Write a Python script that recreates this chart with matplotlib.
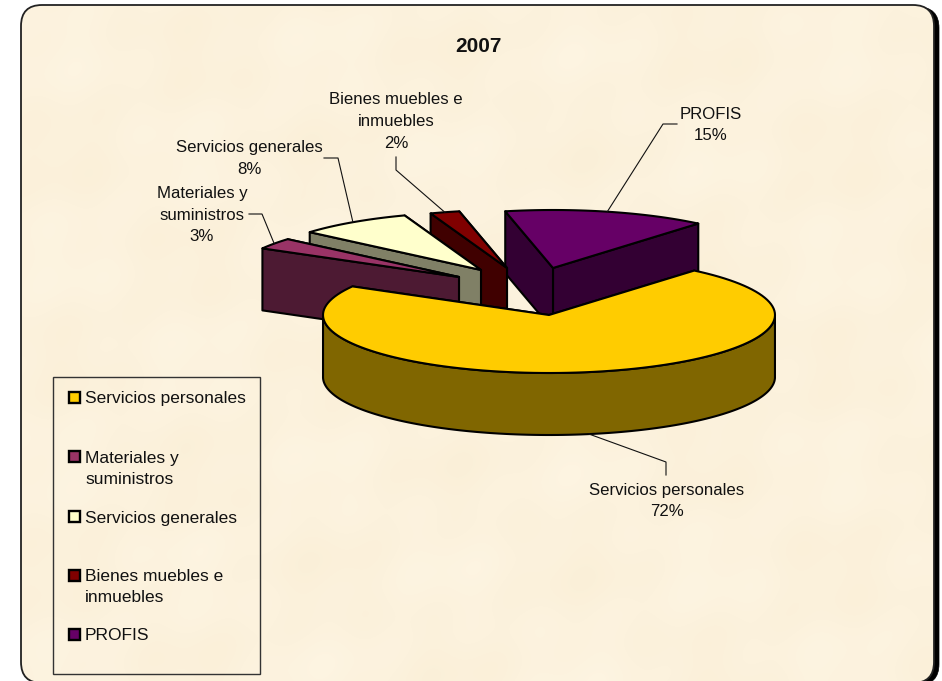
import numpy as np
import matplotlib
matplotlib.use("Agg")
import matplotlib.pyplot as plt
from matplotlib.patches import FancyBboxPatch, Polygon, Rectangle

plt.rcParams["font.family"] = ["Liberation Sans", "DejaVu Sans"]

# data
categories = ["Servicios personales", "Materiales y suministros", "Servicios generales",
              "Bienes muebles e inmuebles", "PROFIS"]
percent = [72.1, 3.1, 8.2, 2.1, 14.5]   # slice sizes, labels are rounded
title = "2007"

# text as wrapped in the chart
legend_text = ["Servicios personales", "Materiales y\nsuministros", "Servicios generales",
               "Bienes muebles e\ninmuebles", "PROFIS"]
label_text = ["Servicios personales\n72%", "Materiales y\nsuministros\n3%", "Servicios generales\n8%",
              "Bienes muebles e\ninmuebles\n2%", "PROFIS\n15%"]

# colours / geometry
FACE = ["#FFCC00", "#993366", "#FFFFCC", "#800000", "#660066"]
SIDE = ["#806600", "#4D1A33", "#808066", "#400000", "#330033"]
BG = (252, 242, 221)
RX, RY, DEPTH = 226, 58, 62
START = 50   # degrees, slices run clockwise
TIPS = [(549, 315), (459, 277), (481, 270), (507, 268), (553, 268)]
DRAW_ORDER = [4, 3, 2, 1, 0]
LABEL_POS = [(667, 501), (202, 215), (249, 158.5), (396, 121.5), (711, 125)]
LEADERS = [[(666, 475), (666, 462)], [(249, 214), (262, 214)], [(324, 158), (338, 158)],
           [(396, 157), (396, 170)], [(677, 124), (663, 124)]]
LEGEND_Y = [397.5, 456.5, 516.5, 575, 634]

fig = plt.figure(figsize=(9.42, 6.81), dpi=100, facecolor="white")
ax = fig.add_axes([0, 0, 1, 1])
ax.set_xlim(0, 942)
ax.set_ylim(681, 0)
ax.axis("off")

# card with shadow on the right
ax.add_patch(FancyBboxPatch((26, 7), 913, 678, boxstyle="round,pad=0,rounding_size=21",
                            fc="black", ec="black", lw=0.5, zorder=1))
# almost clear fill: an unfilled path gets mangled where it leaves the canvas
card = FancyBboxPatch((21, 5), 913, 678, boxstyle="round,pad=0,rounding_size=21",
                      fc=(1, 1, 1, 0.01), ec="#222222", lw=1.3, zorder=3)
ax.add_patch(card)

# faint paper mottling inside the card
yy, xx = np.mgrid[0:681, 0:942]
mott = np.sin(xx / 41.0) * np.sin(yy / 33.0) + 0.6 * np.sin((xx + yy) / 19.0) * np.cos((xx - yy) / 27.0)
paper = np.clip(np.dstack([BG[0] + 0.8 * mott, BG[1] + 1.5 * mott, BG[2] + 3 * mott]), 0, 255).astype(np.uint8)
im = ax.imshow(paper, extent=(0, 942, 681, 0), zorder=2, aspect="auto", interpolation="bilinear")
im.set_clip_path(card)
ax.set_xlim(0, 942)
ax.set_ylim(681, 0)


def arc(tip, t0, t1):
    t = np.radians(np.linspace(t0, t1, 120))
    return np.column_stack([tip[0] + RX * np.cos(t), tip[1] - RY * np.sin(t)])


def draw_slice(i, t_hi, t_lo):
    tip = np.array(TIPS[i], dtype=float)
    down = np.array([0, DEPTH])
    pts = arc(tip, t_hi, t_lo)
    z = 10 + DRAW_ORDER.index(i)
    style = dict(ec="black", lw=1.5, joinstyle="round", zorder=z)
    # cut faces
    for end in (pts[-1], pts[0]):
        ax.add_patch(Polygon([tip, end, end + down, tip + down], fc=SIDE[i], **style))
    # outer wall, only the front half shows
    angles = np.linspace(t_hi, t_lo, 240)
    front = angles[np.sin(np.radians(angles)) <= 0]
    if len(front):
        edge = arc(tip, front[0], front[-1])
        ax.add_patch(Polygon(np.vstack([edge, (edge + down)[::-1]]), fc=SIDE[i], **style))
    ax.add_patch(Polygon(np.vstack([tip, pts]), fc=FACE[i], **style))


# slice angles from the values
stops = START - np.cumsum([0] + percent) * 3.6
for i in DRAW_ORDER:
    draw_slice(i, stops[i], stops[i + 1])

# leader lines start at the outer edge of each slice
for i, elbow in enumerate(LEADERS):
    mid = np.radians((stops[i] + stops[i + 1]) / 2)
    x0 = TIPS[i][0] + RX * np.cos(mid)
    y0 = TIPS[i][1] - RY * np.sin(mid) + (DEPTH if np.sin(mid) < 0 else 0)
    xs = [p[0] for p in elbow] + [x0]
    ys = [p[1] for p in elbow] + [y0]
    ax.plot(xs, ys, color="#111111", lw=0.8, zorder=30)
    ax.text(LABEL_POS[i][0], LABEL_POS[i][1], label_text[i], ha="center", va="center",
            fontsize=12.1, linespacing=1.55, color="#111111", zorder=31)

ax.text(478, 46, title, ha="center", va="center", fontsize=15, fontweight="bold",
        color="#111111", zorder=31)

# legend
ax.add_patch(Rectangle((53, 377), 207, 297, fc="none", ec="#333333", lw=1, zorder=30))
for i, name in enumerate(legend_text):
    ax.add_patch(Rectangle((69, LEGEND_Y[i] - 5.5), 11, 11, fc=FACE[i], ec="black", lw=1.7, zorder=31))
    ax.text(85, LEGEND_Y[i] - 6, name, ha="left", va="top", fontsize=12.5, linespacing=1.5,
            color="#111111", zorder=31)

fig.savefig("out.png", dpi=100, facecolor="white")
